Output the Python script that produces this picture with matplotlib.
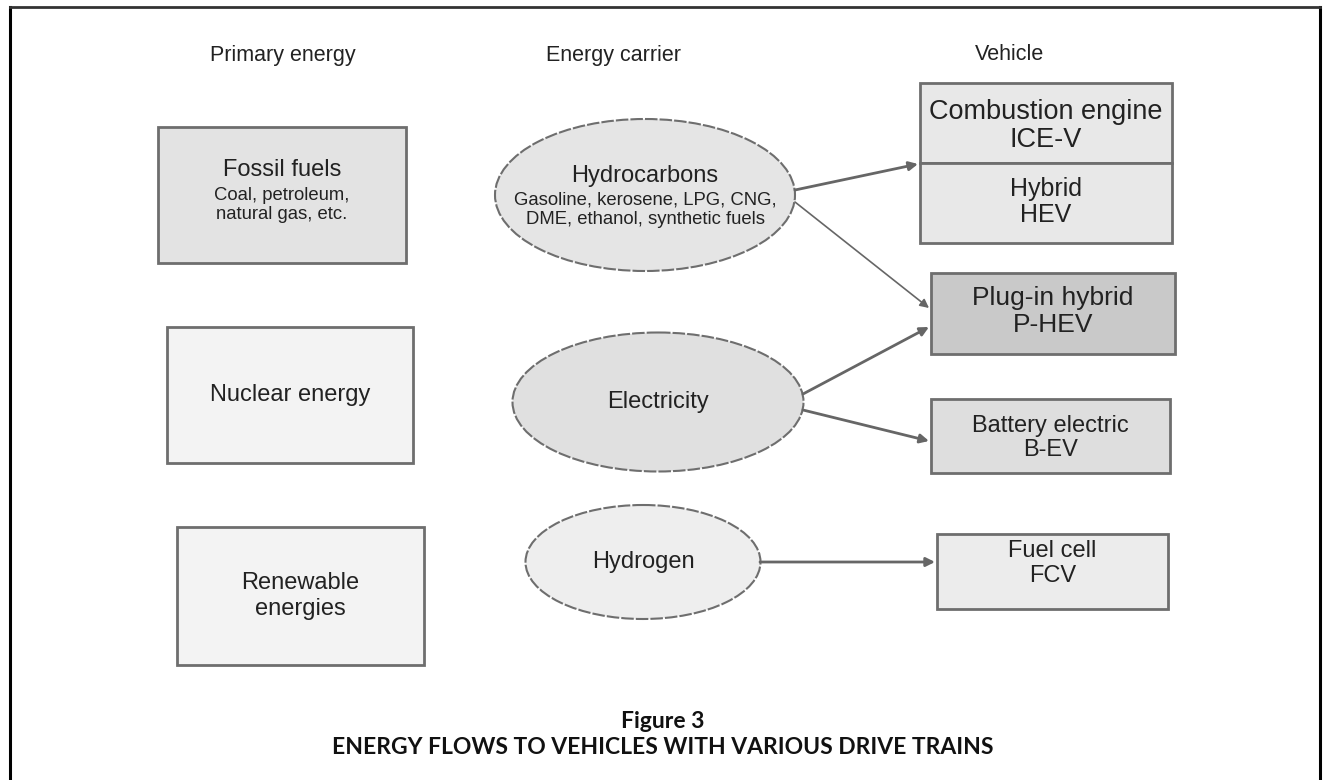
# flow diagram: energy flows to vehicles with various drive trains

import matplotlib.pyplot as plt
from matplotlib.patches import Rectangle, Ellipse


# data
# ---

column_titles = ['Primary energy', 'Energy carrier', 'Vehicle']

primary_titles = ['Fossil fuels', 'Nuclear energy', 'Renewable\nenergies']
primary_notes = ['Coal, petroleum,\nnatural gas, etc.', '', '']

carrier_titles = ['Hydrocarbons', 'Electricity', 'Hydrogen']
carrier_notes = ['Gasoline, kerosene, LPG, CNG,\nDME, ethanol, synthetic fuels', '', '']

vehicle_titles = ['Combustion engine\nICE-V', 'Hybrid\nHEV', 'Plug-in hybrid\nP-HEV',
                  'Battery electric\nB-EV', 'Fuel cell\nFCV']

# links carrier index -> vehicle index
links = [(0, 0), (0, 2), (1, 2), (1, 3), (2, 4)]

caption_num = 'Figure 3'
caption_text = 'ENERGY FLOWS TO VEHICLES WITH VARIOUS DRIVE TRAINS'


# layout (pixel coordinates, y going down)
# ---

W, H = 1325, 780
col_x = [283, 613, 1010]
col_y = 55

# boxes: x0, y0, x1, y1, fill
primary_boxes = [(158, 127, 406, 263, '#e3e3e3'),
                 (167, 327, 413, 463, '#f3f3f3'),
                 (177, 527, 424, 665, '#f3f3f3')]

# ellipses: cx, cy, w, h, fill
carrier_ells = [(645, 195, 300, 152, '#e5e5e5'),
                (658, 402, 291, 139, '#e0e0e0'),
                (643, 562, 235, 114, '#eeeeee')]

# boxes: x0, y0, x1, y1, fill, font size, text offset
vehicle_boxes = [(920, 83, 1172, 163, '#e8e8e8', 19.5, 3),
                 (920, 163, 1172, 243, '#e8e8e8', 18, -1),
                 (931, 273, 1175, 354, '#c9c9c9', 19, -2),
                 (931, 399, 1170, 473, '#dedede', 17, 2),
                 (937, 534, 1168, 609, '#ececec', 17, -8)]

# arrow start/end points, one per link
arrow_pts = [((795, 190), (918, 164)),
             ((795, 202), (929, 308)),
             ((803, 394), (929, 327)),
             ((803, 410), (929, 441)),
             ((760, 562), (935, 562))]
arrow_lw = [2.0, 1.2, 2.0, 2.0, 2.0]

txt_col = '#222222'
edge_col = '#6e6e6e'
sans = ['Liberation Sans', 'DejaVu Sans']


# draw
# ---

fig = plt.figure(figsize=(13.25, 7.8), dpi=100)
ax = fig.add_axes([0, 0, 1, 1])
ax.set_xlim(0, W)
ax.set_ylim(H, 0)
ax.axis('off')

# outer frame
ax.plot([10, 10], [7, H + 5], color='black', lw=2.2)
ax.plot([1320, 1320], [7, H + 5], color='black', lw=2.2)
ax.plot([10, 1320], [7, 7], color='#333333', lw=2.0)

for x, t in zip(col_x, column_titles):
    ax.text(x, col_y, t, ha='center', va='center', fontsize=15.5, color=txt_col, family=sans)


def box_label(cx, cy, title, note, size=17, ls=1.15, gap=(25, 10)):
    if note:
        ax.text(cx, cy - gap[0], title, ha='center', va='center', fontsize=size, color=txt_col, family=sans)
        ax.text(cx, cy + gap[1], note, ha='center', va='center', fontsize=13.3, color=txt_col,
                family=sans, linespacing=1.22)
    else:
        ax.text(cx, cy, title, ha='center', va='center', fontsize=size, color=txt_col,
                family=sans, linespacing=ls)


for (x0, y0, x1, y1, fc), title, note in zip(primary_boxes, primary_titles, primary_notes):
    ax.add_patch(Rectangle((x0, y0), x1 - x0, y1 - y0, facecolor=fc, edgecolor=edge_col, lw=2))
    box_label((x0 + x1) / 2, (y0 + y1) / 2, title, note, ls=1.2)

for (cx, cy, w, h, fc), title, note in zip(carrier_ells, carrier_titles, carrier_notes):
    ax.add_patch(Ellipse((cx, cy), w, h, facecolor=fc, edgecolor=edge_col, lw=1.5,
                         linestyle=(0, (6, 1))))
    box_label(cx, cy, title, note, gap=(19, 15))

for (x0, y0, x1, y1, fc, fs, off), title in zip(vehicle_boxes, vehicle_titles):
    ax.add_patch(Rectangle((x0, y0), x1 - x0, y1 - y0, facecolor=fc, edgecolor=edge_col, lw=2))
    box_label((x0 + x1) / 2, (y0 + y1) / 2 + off, title, '', size=fs, ls=1.12)

for (p0, p1), lw in zip(arrow_pts, arrow_lw):
    ax.annotate('', xy=p1, xytext=p0,
                arrowprops=dict(arrowstyle='-|>', color='#666666', lw=lw,
                                mutation_scale=13, shrinkA=0, shrinkB=0))

# caption
ax.text(W / 2, 722, caption_num, ha='center', va='center', fontsize=16.5,
        fontweight='bold', color='#111111', family=['Lato', 'DejaVu Sans'])
ax.text(W / 2, 748, caption_text, ha='center', va='center', fontsize=16.5,
        fontweight='bold', color='#111111', family=['Lato', 'DejaVu Sans'])

plt.savefig('out.png', dpi=100)
plt.close()
